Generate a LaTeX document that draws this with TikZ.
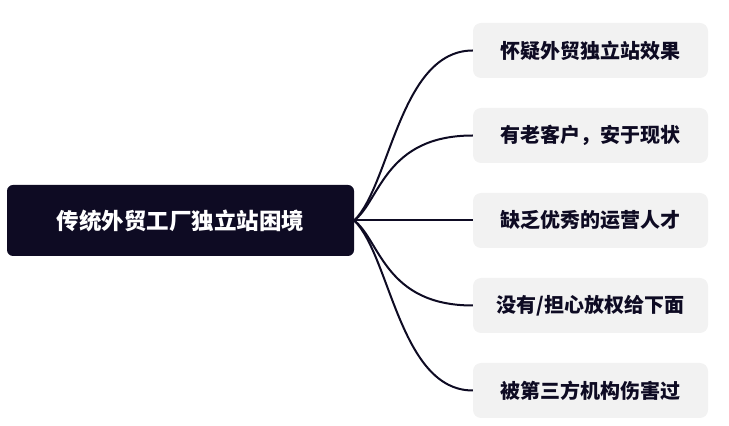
\documentclass[tikz,border=0pt]{standalone}
\usepackage{fontspec}
\newfontfamily\cjkfont{Noto Sans CJK SC}
\usetikzlibrary{trees}
\definecolor{inkdark}{HTML}{0E0B23}
\definecolor{cardgray}{HTML}{F2F2F2}
\tikzset{
  rootbox/.style={fill=inkdark, text=white, rounded corners=6pt,
    minimum width=347pt, minimum height=71pt, inner sep=0pt,
    font=\cjkfont\bfseries\fontsize{22.5}{27}\selectfont},
  leafbox/.style={fill=cardgray, text=inkdark, rounded corners=8pt,
    minimum width=235pt, minimum height=55pt, inner sep=0pt,
    font=\cjkfont\bfseries\fontsize{20}{24}\selectfont},
  bow/.style 2 args={edge from parent path={(\tikzparentnode.east)
    .. controls +(#1) and +(#2) .. (\tikzchildnode.west)}}
}
\begin{document}
\begin{tikzpicture}[x=1pt, y=1pt, grow'=right,
    level distance=410pt, sibling distance=85pt,
    edge from parent/.style={draw=inkdark, line width=2pt}]
  \useasboundingbox (0,0) rectangle (729,426);
  \node[rootbox] (root) at (180.5,205.5) {传统外贸工厂独立站困境}
     child[bow={36,35}{-73,0}] {
        node[leafbox] (doubt) {怀疑外贸独立站效果}
     }
     child[bow={26,20}{-88,0}] {
        node[leafbox] (oldclients) {有老客户，安于现状}
     }
     child[edge from parent path={(\tikzparentnode.east) -- (\tikzchildnode.west)}] {
        node[leafbox] (talent) {缺乏优秀的运营人才}
     }
     child[bow={26,-20}{-88,0}] {
        node[leafbox] (delegate) {没有/担心放权给下面}
     }
     child[bow={36,-35}{-73,0}] {
        node[leafbox] (agency) {被第三方机构伤害过}
     };
\end{tikzpicture}
\end{document}
